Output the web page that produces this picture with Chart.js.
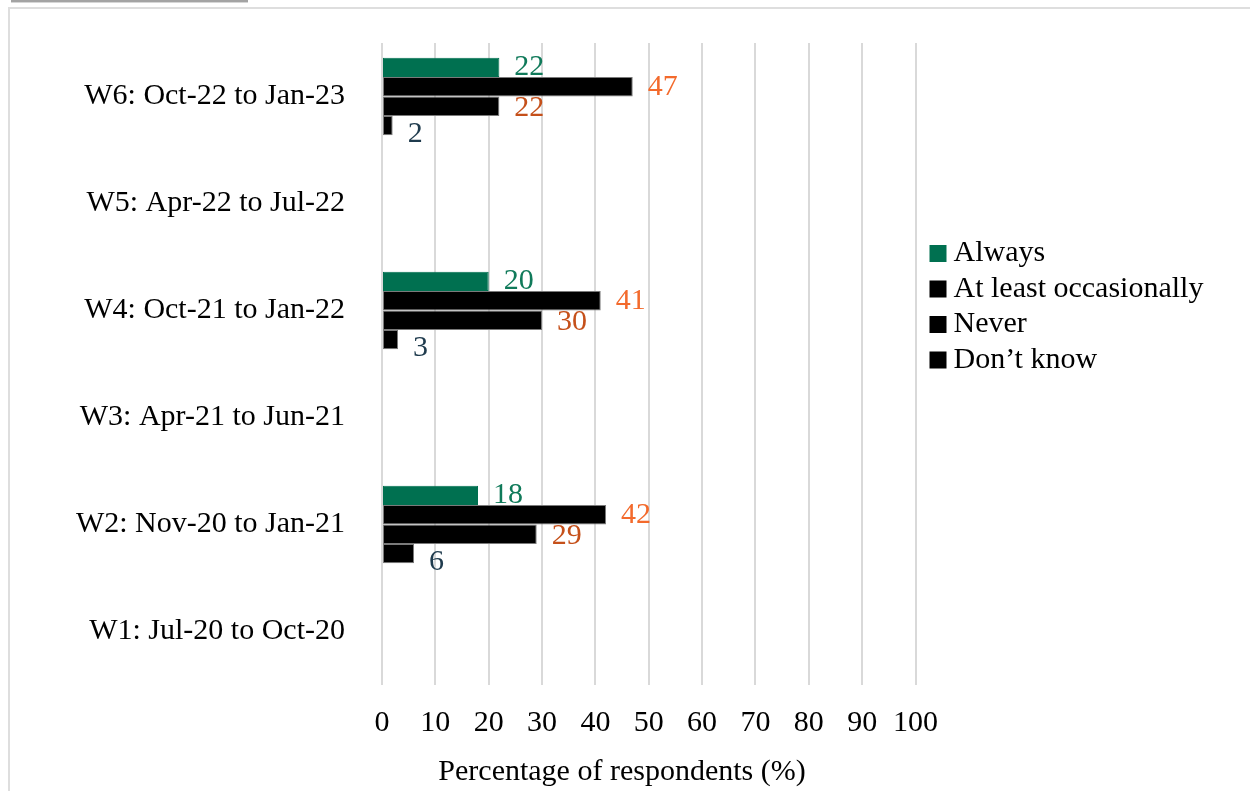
<!DOCTYPE html>
<html>
<head>
<meta charset="utf-8">
<title>Respondents by wave</title>
<script src="https://cdn.jsdelivr.net/npm/chart.js@4.4.1/dist/chart.umd.min.js"></script>
<style>
  html, body { margin: 0; padding: 0; background: #ffffff; overflow: hidden; }
  #tab { position: absolute; left: 11px; top: 0; width: 237px; height: 2px; background: #a3a3a3; border-bottom: 1px solid #d6d6d6; }
  #frame { position: absolute; left: 8px; top: 7px; width: 1270px; height: 820px; border-left: 2px solid #dedede; border-top: 2px solid #dedede; }
  #wrap { position: absolute; left: 10px; top: 9px; width: 1240px; height: 782px; }
</style>
</head>
<body>
<div id="tab"></div>
<div id="frame"></div>
<div id="wrap"><canvas id="chart"></canvas></div>
<script>
// Survey waves, listed top to bottom
const waves = [
  'W6: Oct-22 to Jan-23',
  'W5: Apr-22 to Jul-22',
  'W4: Oct-21 to Jan-22',
  'W3: Apr-21 to Jun-21',
  'W2: Nov-20 to Jan-21',
  'W1: Jul-20 to Oct-20'
];
const seriesNames = ['Always', 'At least occasionally', 'Never', 'Don\u2019t know'];

// Percentage of respondents per answer (no data for W1, W3, W5)
const always       = [22, null, 20, null, 18, null];
const occasionally = [47, null, 41, null, 42, null];
const never        = [22, null, 30, null, 29, null];
const dontKnow     = [2,  null, 3,  null, 6,  null];

const xTicks = [0, 10, 20, 30, 40, 50, 60, 70, 80, 90, 100];
const axisCaption = 'Percentage of respondents (%)';

const SERIF = "'Liberation Serif', 'Times New Roman', Times, serif";
Chart.defaults.font.family = SERIF;
Chart.defaults.color = '#000000';

// Value written just past the end of each bar
const valueLabels = {
  id: 'valueLabels',
  afterDatasetsDraw(chart, args, opts) {
    const ctx = chart.ctx;
    ctx.save();
    ctx.font = opts.size + 'px ' + SERIF;
    ctx.textAlign = 'left';
    ctx.textBaseline = 'middle';
    chart.data.datasets.forEach((ds, i) => {
      const meta = chart.getDatasetMeta(i);
      meta.data.forEach((bar, j) => {
        const v = ds.data[j];
        if (v === null || v === undefined) return;
        ctx.fillStyle = ds.labelColor;
        ctx.fillText(String(v), bar.x + opts.gap, bar.y + (ds.labelShift || 0));
      });
    });
    ctx.restore();
  }
};

// Legend column to the right of the plot
const sideLegend = {
  id: 'sideLegend',
  afterDraw(chart, args, opts) {
    const ctx = chart.ctx;
    const area = chart.chartArea;
    ctx.save();
    ctx.font = opts.size + 'px ' + SERIF;
    ctx.textAlign = 'left';
    ctx.textBaseline = 'middle';
    chart.data.datasets.forEach((ds, i) => {
      const x = area.right + opts.offsetX;
      const y = area.top + opts.offsetY + i * opts.rowGap;
      ctx.fillStyle = ds.legendColor;
      ctx.fillRect(x, y - opts.box / 2, opts.box, opts.box);
      ctx.fillStyle = '#000000';
      ctx.fillText(ds.label, x + opts.box + opts.textGap, y);
    });
    ctx.restore();
  }
};

// Caption under the value axis
const axisTitle = {
  id: 'axisTitle',
  afterDraw(chart, args, opts) {
    const ctx = chart.ctx;
    ctx.save();
    ctx.font = opts.size + 'px ' + SERIF;
    ctx.fillStyle = '#000000';
    ctx.textAlign = 'center';
    ctx.textBaseline = 'alphabetic';
    ctx.fillText(opts.text, opts.x, opts.y);
    ctx.restore();
  }
};

function barSet(label, data, fill, edge, labelColor, labelShift) {
  return {
    label, data,
    backgroundColor: fill,
    borderColor: edge,
    borderWidth: 1,
    borderSkipped: false,
    legendColor: fill,
    labelColor, labelShift,
    categoryPercentage: 0.726,
    barPercentage: 1.0
  };
}

new Chart(document.getElementById('chart'), {
  type: 'bar',
  data: {
    labels: waves,
    datasets: [
      barSet(seriesNames[0], always,       '#007050', '#007050', '#107a5a', 0),
      barSet(seriesNames[1], occasionally, '#000000', '#7a7a7a', '#f36a2c', 0),
      barSet(seriesNames[2], never,        '#000000', '#7a7a7a', '#c5501a', 1.5),
      barSet(seriesNames[3], dontKnow,     '#000000', '#7a7a7a', '#1f3b4d', 8)
    ]
  },
  options: {
    indexAxis: 'y',
    responsive: true,
    maintainAspectRatio: false,
    animation: false,
    layout: { padding: { top: 34, right: 334.5, bottom: 0, left: 0 } },
    scales: {
      x: {
        type: 'linear',
        min: 0,
        max: 100,
        afterBuildTicks(scale) { scale.ticks = xTicks.map(v => ({ value: v })); },
        afterFit(scale) { scale.height = 106; scale.paddingLeft = 0; scale.paddingRight = 0; },
        grid: { color: '#d9d9d9', lineWidth: 2, drawTicks: false },
        border: { display: false },
        ticks: { font: { size: 30 }, color: '#000000', padding: 20, maxRotation: 0, autoSkip: false }
      },
      y: {
        type: 'category',
        afterFit(scale) { scale.width = 372; scale.paddingTop = 0; scale.paddingBottom = 0; },
        grid: { display: false, drawTicks: false },
        border: { display: false },
        ticks: { font: { size: 30 }, color: '#000000', padding: 37, autoSkip: false }
      }
    },
    plugins: {
      legend: { display: false },
      tooltip: { enabled: false },
      valueLabels: { size: 30, gap: 15 },
      sideLegend: { size: 30, offsetX: 14, offsetY: 210.5, rowGap: 35.5, box: 17, textGap: 7 },
      axisTitle: { text: axisCaption, size: 30, x: 612, y: 770.5 }
    }
  },
  plugins: [valueLabels, sideLegend, axisTitle]
});
</script>
</body>
</html>
